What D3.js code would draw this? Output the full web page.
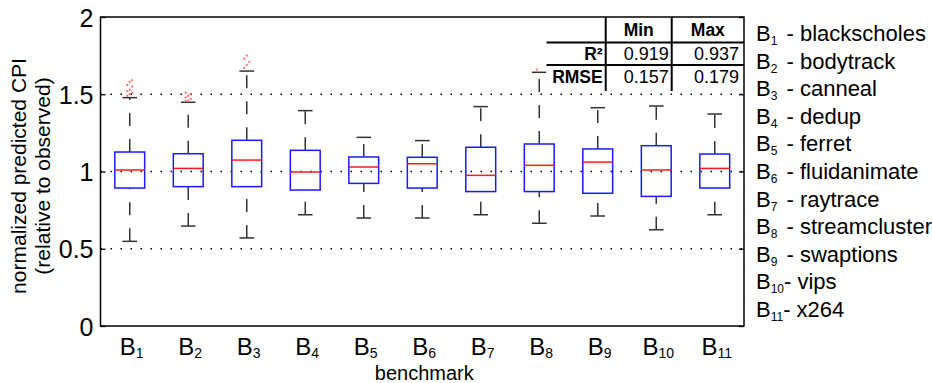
<!DOCTYPE html>
<html><head><meta charset="utf-8">
<script src="https://cdn.jsdelivr.net/npm/d3@7"></script>
<style>body{margin:0;background:#fff}text{font-family:"Liberation Sans",Arial,sans-serif}</style>
</head><body><svg id="c" width="932" height="383"></svg>
<script>
const categories = ["1","2","3","4","5","6","7","8","9","10","11"];
const names = ["blackscholes","bodytrack","canneal","dedup","ferret","fluidanimate","raytrace","streamcluster","swaptions","vips","x264"];
const q1 =      [0.893,0.902,0.902,0.880,0.923,0.893,0.870,0.870,0.859,0.839,0.893];
const median =  [1.010,1.020,1.074,0.997,1.029,1.050,0.975,1.040,1.061,1.010,1.020];
const q3 =      [1.126,1.115,1.202,1.137,1.094,1.092,1.157,1.178,1.146,1.167,1.113];
const whiskLo = [0.548,0.647,0.570,0.720,0.699,0.699,0.720,0.665,0.712,0.623,0.720];
const whiskHi = [1.478,1.448,1.650,1.394,1.221,1.200,1.420,1.642,1.413,1.424,1.372];
const outliers = [
  [1.49,1.50,1.51,1.52,1.53,1.55,1.56,1.58,1.59],
  [1.455,1.46,1.47,1.48,1.49,1.50,1.51],
  [1.67,1.69,1.71,1.73,1.75],
  [],[],[],[],
  [1.66],
  [],[],[]
];
const yTicks = [0,0.5,1,1.5,2];
const yTickLabels = ["0","0.5","1","1.5","2"];
const gridVals = [0.5,1,1.5];
const tableRows = ["R²","RMSE"];
const tableCols = ["Min","Max"];
const tableMin = ["0.919","0.157"];
const tableMax = ["0.937","0.179"];

const svg = d3.select("#c");
const L=100.5, R=744, T=17, B=326;
const x = d3.scalePoint().domain(categories).range([L,R]).padding(0.5);
const y = d3.scaleLinear().domain([0,2]).range([B,T]);
const step = x.step();
const bw = step*0.51, cw = step*0.25;

// grid
svg.append("g").selectAll("line").data(gridVals).join("line")
  .attr("x1",L).attr("x2",R).attr("y1",d=>y(d)).attr("y2",d=>y(d))
  .attr("stroke","#000").attr("stroke-width",1.3).attr("stroke-dasharray","1.5,8.5");

// boxes
const g = svg.append("g");
categories.forEach((c,i)=>{
  const cx = x(c);
  g.append("line").attr("x1",cx).attr("x2",cx).attr("y1",y(q3[i])).attr("y2",y(whiskHi[i]))
    .attr("stroke","#333").attr("stroke-width",1.5).attr("stroke-dasharray","13,13");
  g.append("line").attr("x1",cx).attr("x2",cx).attr("y1",y(whiskLo[i])).attr("y2",y(q1[i]))
    .attr("stroke","#333").attr("stroke-width",1.5).attr("stroke-dasharray","13,13");
  [whiskLo[i],whiskHi[i]].forEach(v=>{
    g.append("line").attr("x1",cx-cw/2).attr("x2",cx+cw/2).attr("y1",y(v)).attr("y2",y(v))
      .attr("stroke","#333").attr("stroke-width",1.5);
  });
  g.append("rect").attr("x",cx-bw/2).attr("y",y(q3[i])).attr("width",bw).attr("height",y(q1[i])-y(q3[i]))
    .attr("fill","none").attr("stroke","#1a1aff").attr("stroke-width",1.5);
  g.append("line").attr("x1",cx-bw/2).attr("x2",cx+bw/2).attr("y1",y(median[i])).attr("y2",y(median[i]))
    .attr("stroke","#ff1a1a").attr("stroke-width",1.5);
  outliers[i].forEach((v,k)=>{
    g.append("rect").attr("x",cx-1+((k%3)-1)*2.5).attr("y",y(v)-1).attr("width",2).attr("height",2)
      .attr("fill","#ff5050").attr("opacity",0.8);
  });
});

// table
const tg = svg.append("g");
const colX = [605.7, 671.7, R];
const rowY = [T, 42.5, 65, 91];
tg.append("rect").attr("x",546.5).attr("y",T).attr("width",R-546.5).attr("height",rowY[3]-T).attr("fill","#fff");
tg.append("line").attr("x1",546.5).attr("x2",R).attr("y1",rowY[1]).attr("y2",rowY[1]).attr("stroke","#000").attr("stroke-width",2);
tg.append("line").attr("x1",546.5).attr("x2",R).attr("y1",rowY[2]).attr("y2",rowY[2]).attr("stroke","#000").attr("stroke-width",2);
[colX[0],colX[1]].forEach(cx=>tg.append("line").attr("x1",cx).attr("x2",cx).attr("y1",T).attr("y2",rowY[3]).attr("stroke","#000").attr("stroke-width",2));
tableCols.forEach((t,j)=>tg.append("text").attr("x",(colX[j]+colX[j+1])/2).attr("y",36).attr("text-anchor","middle")
  .attr("font-size",17.5).attr("font-weight","bold").text(t));
tableRows.forEach((t,r)=>{
  const by = r===0?60:83;
  tg.append("text").attr("x",colX[0]-3).attr("y",by).attr("text-anchor","end").attr("font-size",17.5).attr("font-weight","bold").text(t);
  tg.append("text").attr("x",colX[1]-3).attr("y",by).attr("text-anchor","end").attr("font-size",18).text(tableMin[r]);
  tg.append("text").attr("x",colX[2]-5).attr("y",by).attr("text-anchor","end").attr("font-size",18).text(tableMax[r]);
});

// frame
svg.append("rect").attr("x",L).attr("y",T).attr("width",R-L).attr("height",B-T).attr("fill","none").attr("stroke","#000").attr("stroke-width",1.5);

// axes
const ya = svg.append("g").attr("transform",`translate(${L},0)`)
  .call(d3.axisLeft(y).tickValues(yTicks).tickFormat((d,i)=>yTickLabels[i]).tickSize(-5).tickPadding(7));
ya.select(".domain").remove();
ya.selectAll("line").attr("stroke-width",1.3);
ya.selectAll("text").attr("font-size",25).attr("font-family","Liberation Sans, Arial").attr("dy","0.36em");
const yr = svg.append("g").attr("transform",`translate(${R},0)`)
  .call(d3.axisRight(y).tickValues(yTicks).tickFormat("").tickSize(-5));
yr.select(".domain").remove();
yr.selectAll("line").attr("stroke-width",1.3);

// x tick labels
categories.forEach(c=>{
  const t = svg.append("text").attr("x",x(c)+2).attr("y",355).attr("text-anchor","middle").attr("font-size",24);
  t.append("tspan").text("B");
  t.append("tspan").attr("font-size",14).attr("dy",3).text(c);
});
svg.append("text").attr("x",(L+R)/2+2).attr("y",380).attr("text-anchor","middle").attr("font-size",20).text("benchmark");

// y title
const yt = svg.append("text").attr("transform","translate(0,176) rotate(-90)").attr("text-anchor","middle").attr("font-size",21);
yt.append("tspan").attr("x",0).attr("y",26).text("normalized predicted CPI");
yt.append("tspan").attr("x",0).attr("y",50).text("(relative to observed)");

// legend
categories.forEach((c,i)=>{
  const t = svg.append("text").attr("x",756).attr("y",41+i*27.6).attr("font-size",22).attr("fill","#000");
  t.append("tspan").text("B");
  t.append("tspan").attr("font-size",12).attr("dy",4).text(c);
  t.append("tspan").attr("dy",-4).attr("dx",c.length>1?0:3).text((c.length>1?"- ":" - ")+names[i]);
});
</script></body></html>
